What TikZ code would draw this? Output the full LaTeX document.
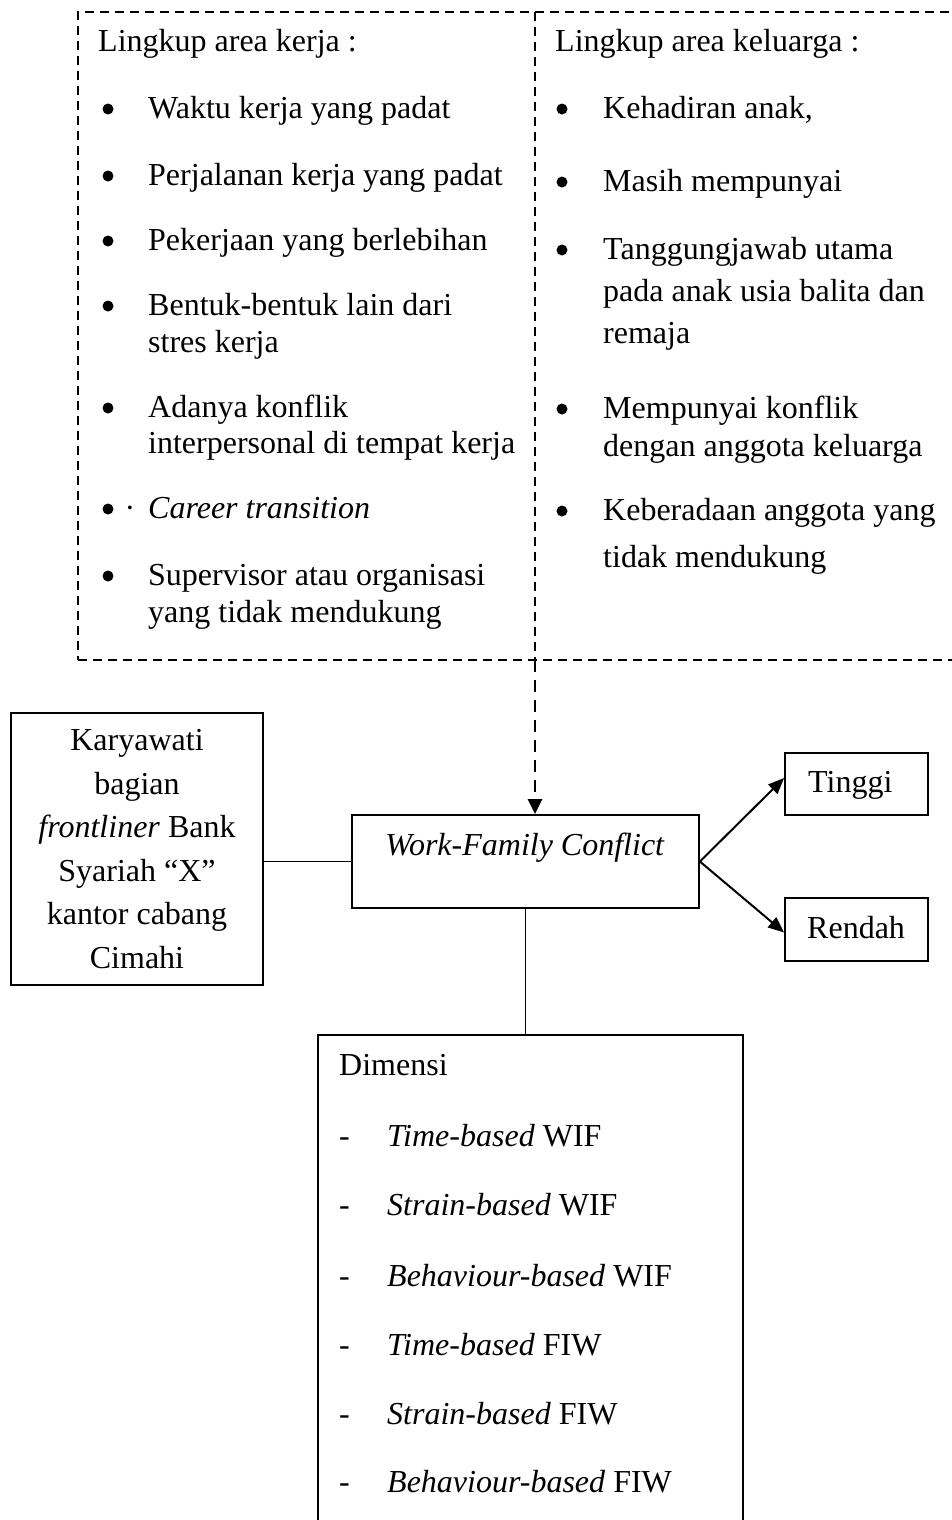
\documentclass[tikz,border=0pt]{standalone}
\usepackage{fontspec}
\setmainfont{Liberation Serif}
\usetikzlibrary{arrows.meta,calc}
\begin{document}
\begin{tikzpicture}[x=1pt,y=-1pt,
  font=\fontsize{32}{38}\selectfont,
  txt/.style={anchor=base west, inner sep=0pt},
  bul/.style={circle, fill, inner sep=0pt, minimum size=11pt},
  boxed/.style={draw, line width=1.8pt, inner sep=0pt},
  dashline/.style={dash pattern=on 9pt off 6pt, line width=1.5pt},
  dasharrow/.style={dash pattern=on 12pt off 8pt, line width=2.4pt, -{Triangle[length=15pt,width=14pt]}},
  solidarrow/.style={line width=2pt, -{Triangle[length=16pt,width=13pt]}},
  conn/.style={line width=1.8pt}
]
\useasboundingbox (0,0) rectangle (952,1520);

% outer dashed context box (right edge lies outside the page)
\node[name=ctx, draw, dashline, minimum width=884pt, minimum height=648pt, inner sep=0pt] at (520,336) {};
\coordinate (dtop) at (535,12);
\coordinate (dbot) at (535,660);
\draw[dashline] (dtop) -- (dbot);

% left column
\node[txt] (lh) at (98,52) {Lingkup area kerja :};
\node[bul] (lb1) at (108,109) {};
\node[txt] (l1) at (148,118) {Waktu kerja yang padat};
\node[bul] (lb2) at (108,176) {};
\node[txt] (l2) at (148,185) {Perjalanan kerja yang padat};
\node[bul] (lb3) at (108,241) {};
\node[txt] (l3) at (148,250) {Pekerjaan yang berlebihan};
\node[bul] (lb4) at (108,306) {};
\node[txt] (l4a) at (148,315) {Bentuk-bentuk lain dari};
\node[txt] (l4b) at (148,352) {stres kerja};
\node[bul] (lb5) at (108,408) {};
\node[txt] (l5a) at (148,417) {Adanya konflik};
\node[txt] (l5b) at (148,453) {interpersonal di tempat kerja};
\node[bul] (lb6) at (108,509) {};
\node[anchor=base, inner sep=0pt] (ldot) at (130,518) {·};
\node[txt] (l6) at (148,518) {\textit{Career transition}};
\node[bul] (lb7) at (108,576) {};
\node[txt] (l7a) at (148,585) {Supervisor atau organisasi};
\node[txt] (l7b) at (148,622) {yang tidak mendukung};

% right column
\node[txt] (rh) at (555,52) {Lingkup area keluarga :};
\node[bul] (rb1) at (562,109) {};
\node[txt] (r1) at (603,118) {Kehadiran anak,};
\node[bul] (rb2) at (562,182) {};
\node[txt] (r2) at (603,191) {Masih mempunyai};
\node[bul] (rb3) at (562,250) {};
\node[txt] (r3a) at (603,259) {Tanggungjawab utama};
\node[txt] (r3b) at (603,301) {pada anak usia balita dan};
\node[txt] (r3c) at (603,343) {remaja};
\node[bul] (rb4) at (562,409) {};
\node[txt] (r4a) at (603,418) {Mempunyai konflik};
\node[txt] (r4b) at (603,456) {dengan anggota keluarga};
\node[bul] (rb5) at (562,511) {};
\node[txt] (r5a) at (603,520) {Keberadaan anggota yang};
\node[txt] (r5b) at (603,567) {tidak mendukung};

% main boxes
\node[boxed, minimum width=347pt, minimum height=93pt] (wfc) at (525.5,861.5) {};
\node[anchor=base, inner sep=0pt] (wfct) at (525,855) {\textit{Work-Family Conflict}};

\node[boxed, minimum width=252pt, minimum height=272pt, align=center,
      font=\fontsize{32}{43.5}\selectfont] (kary) at (137,849)
  {Karyawati\\bagian\\\textit{frontliner} Bank\\Syariah “X”\\kantor cabang\\Cimahi};

\node[boxed, minimum width=143pt, minimum height=62pt] (tinggi) at (856.5,784) {};
\node[txt] (tinggit) at (808,792) {Tinggi};
\node[boxed, minimum width=143pt, minimum height=63pt] (rendah) at (856.5,929.5) {};
\node[txt] (rendaht) at (807,938) {Rendah};

% Dimensi box (bottom edge outside the page)
\node[boxed, minimum width=425pt, minimum height=510pt] (dim) at (530.5,1290) {};
\node[txt] (dh) at (339,1075) {Dimensi};
\node[txt] (dd1) at (339,1146) {-};
\node[txt] (d1) at (387,1146) {\textit{Time-based} WIF};
\node[txt] (dd2) at (339,1215) {-};
\node[txt] (d2) at (387,1215) {\textit{Strain-based} WIF};
\node[txt] (dd3) at (339,1286) {-};
\node[txt] (d3) at (387,1286) {\textit{Behaviour-based} WIF};
\node[txt] (dd4) at (339,1355) {-};
\node[txt] (d4) at (387,1355) {\textit{Time-based} FIW};
\node[txt] (dd5) at (339,1424) {-};
\node[txt] (d5) at (387,1424) {\textit{Strain-based} FIW};
\node[txt] (dd6) at (339,1492) {-};
\node[txt] (d6) at (387,1492) {\textit{Behaviour-based} FIW};

% connectors
\draw[dasharrow] (dbot) -- (dbot |- wfc.north);
\draw[conn] (wfc.west) -- (wfc.west -| kary.east);
\draw[conn] (wfc.south) -- (wfc.south |- dim.north);
\draw[solidarrow] (wfc.east) -- ($(tinggi.west)+(0,-6)$);
\draw[solidarrow] (wfc.east) -- ($(rendah.west)+(0,3)$);
\end{tikzpicture}
\end{document}
